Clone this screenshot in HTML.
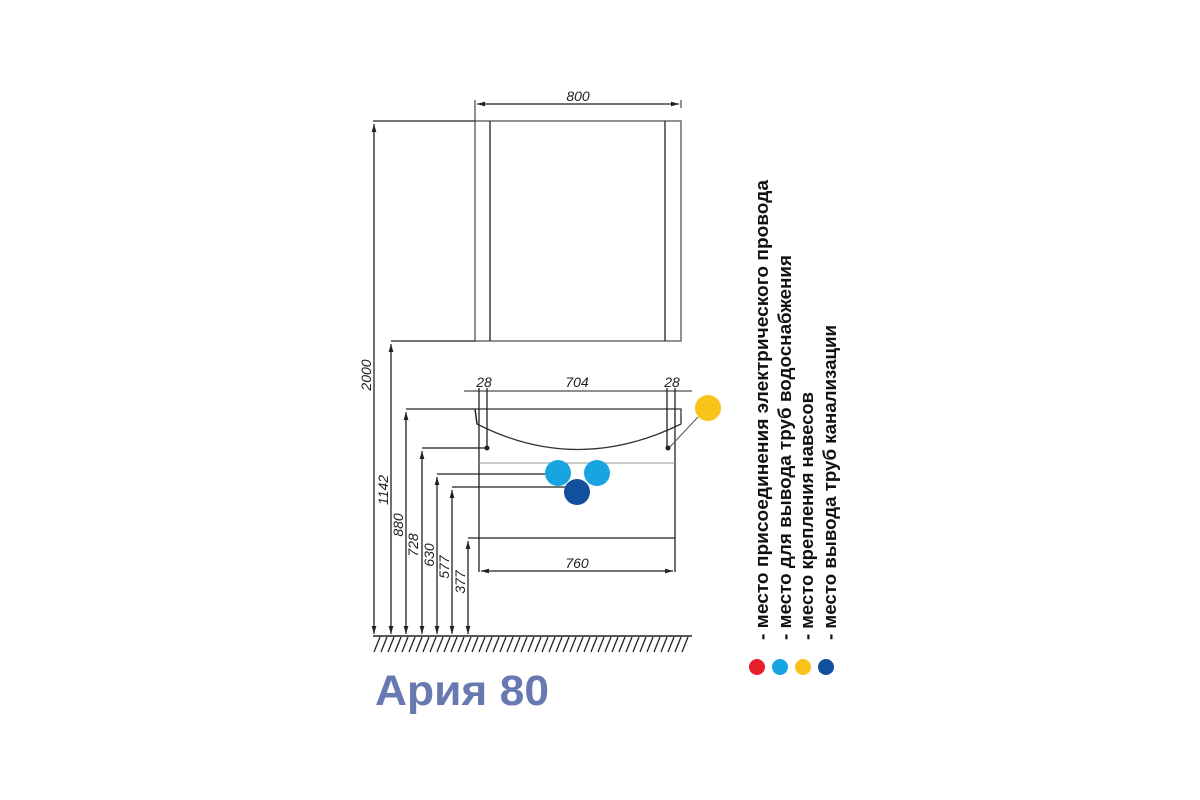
<!DOCTYPE html>
<html><head><meta charset="utf-8"><style>
html,body{margin:0;padding:0;background:#fff;}
svg{display:block;}
</style></head><body>
<svg width="1200" height="800" viewBox="0 0 1200 800" xmlns="http://www.w3.org/2000/svg">
<defs>
<marker id="a" viewBox="0 0 10 6" refX="10" refY="3" markerWidth="8" markerHeight="5" orient="auto-start-reverse" markerUnits="userSpaceOnUse"><path d="M0,0 L10,3 L0,6 z" fill="#222"/></marker>
</defs>
<rect width="1200" height="800" fill="#fff"/>
<g stroke="#222" stroke-width="1.3" fill="none">
<!-- mirror -->
<rect x="475" y="121" width="206" height="220" stroke="#555"/>
<line x1="490" y1="121" x2="490" y2="341"/>
<line x1="665" y1="121" x2="665" y2="341"/>
<!-- 800 dim -->
<line x1="475" y1="100" x2="475" y2="121" stroke-width="1"/>
<line x1="681" y1="100" x2="681" y2="108" stroke-width="1"/>
<line x1="477" y1="104" x2="679" y2="104" marker-start="url(#a)" marker-end="url(#a)"/>
<!-- vertical dims -->
<line x1="373" y1="121" x2="475" y2="121"/>
<line x1="374" y1="124" x2="374" y2="634" marker-start="url(#a)" marker-end="url(#a)"/>
<line x1="391" y1="341" x2="475" y2="341"/>
<line x1="391" y1="344" x2="391" y2="634" marker-start="url(#a)" marker-end="url(#a)"/>
<line x1="406" y1="409" x2="475" y2="409"/>
<line x1="406" y1="412" x2="406" y2="634" marker-start="url(#a)" marker-end="url(#a)"/>
<line x1="422" y1="448" x2="487" y2="448"/>
<line x1="422" y1="451" x2="422" y2="634" marker-start="url(#a)" marker-end="url(#a)"/>
<line x1="437" y1="474" x2="545" y2="474"/>
<line x1="437" y1="477" x2="437" y2="634" marker-start="url(#a)" marker-end="url(#a)"/>
<line x1="452" y1="487" x2="565" y2="487"/>
<line x1="452" y1="490" x2="452" y2="634" marker-start="url(#a)" marker-end="url(#a)"/>
<line x1="468" y1="538" x2="675" y2="538"/>
<line x1="468" y1="541" x2="468" y2="634" marker-start="url(#a)" marker-end="url(#a)"/>
<!-- ground -->
<line x1="373" y1="636" x2="692" y2="636" stroke-width="1.6"/>
<path d="M380,637 l-6,15 M387,637 l-6,15 M394,637 l-6,15 M401,637 l-6,15 M408,637 l-6,15 M415,637 l-6,15 M422,637 l-6,15 M429,637 l-6,15 M436,637 l-6,15 M443,637 l-6,15 M450,637 l-6,15 M457,637 l-6,15 M464,637 l-6,15 M471,637 l-6,15 M478,637 l-6,15 M485,637 l-6,15 M492,637 l-6,15 M499,637 l-6,15 M506,637 l-6,15 M513,637 l-6,15 M520,637 l-6,15 M527,637 l-6,15 M534,637 l-6,15 M541,637 l-6,15 M548,637 l-6,15 M555,637 l-6,15 M562,637 l-6,15 M569,637 l-6,15 M576,637 l-6,15 M583,637 l-6,15 M590,637 l-6,15 M597,637 l-6,15 M604,637 l-6,15 M611,637 l-6,15 M618,637 l-6,15 M625,637 l-6,15 M632,637 l-6,15 M639,637 l-6,15 M646,637 l-6,15 M653,637 l-6,15 M660,637 l-6,15 M667,637 l-6,15 M674,637 l-6,15 M681,637 l-6,15 M688,637 l-6,15"/>
<!-- countertop -->
<path d="M475,409 L681,409 L681,424 Q577,475 477,424 Z" stroke="#333"/>
<line x1="475" y1="409" x2="477" y2="424"/>
<!-- posts -->
<line x1="479" y1="388" x2="479" y2="572"/>
<line x1="487" y1="388" x2="487" y2="448"/>
<line x1="667" y1="388" x2="667" y2="448"/>
<line x1="675" y1="388" x2="675" y2="572"/>
<line x1="479" y1="463" x2="675" y2="463" stroke="#999" stroke-width="1"/>
<!-- 28/704/28 -->
<line x1="464" y1="391" x2="692" y2="391" stroke-width="1"/>
<!-- 760 -->
<line x1="481" y1="571" x2="673" y2="571" marker-start="url(#a)" marker-end="url(#a)"/>
<line x1="698" y1="417" x2="669" y2="448" stroke="#555" stroke-width="1"/>
</g>
<circle cx="487" cy="448" r="2.5" fill="#222"/>
<circle cx="668" cy="448" r="2.5" fill="#222"/>
<circle cx="708" cy="408" r="13" fill="#f9c31a"/>
<circle cx="558" cy="473" r="13" fill="#18a4e0"/>
<circle cx="597" cy="473" r="13" fill="#18a4e0"/>
<circle cx="577" cy="492" r="13" fill="#124f9c"/>
<g font-family="Liberation Sans, sans-serif" font-style="italic" font-size="14" fill="#222">
<text x="578" y="101" text-anchor="middle">800</text>
<text x="484" y="387" text-anchor="middle">28</text>
<text x="577" y="387" text-anchor="middle">704</text>
<text x="672" y="387" text-anchor="middle">28</text>
<text x="577" y="568" text-anchor="middle">760</text>
<text transform="translate(371,375) rotate(-90)" text-anchor="middle">2000</text>
<text transform="translate(388,490) rotate(-90)" text-anchor="middle">1142</text>
<text transform="translate(403,525) rotate(-90)" text-anchor="middle">880</text>
<text transform="translate(418,545) rotate(-90)" text-anchor="middle">728</text>
<text transform="translate(434,555) rotate(-90)" text-anchor="middle">630</text>
<text transform="translate(449,567) rotate(-90)" text-anchor="middle">577</text>
<text transform="translate(465,582) rotate(-90)" text-anchor="middle">377</text>
</g>
<g font-family="Liberation Sans, sans-serif" font-weight="bold" font-size="18" fill="#111">
<text transform="translate(768,640) rotate(-90)" textLength="460" lengthAdjust="spacingAndGlyphs">- место присоединения  электрического провода</text>
<text transform="translate(791,640) rotate(-90)" textLength="385" lengthAdjust="spacingAndGlyphs">- место для вывода труб водоснабжения</text>
<text transform="translate(813,640) rotate(-90)" textLength="248" lengthAdjust="spacingAndGlyphs">- место крепления навесов</text>
<text transform="translate(836,640) rotate(-90)" textLength="315" lengthAdjust="spacingAndGlyphs">- место вывода труб канализации</text>
</g>
<circle cx="757" cy="667" r="8" fill="#e5202a"/>
<circle cx="780" cy="667" r="8" fill="#18a4e0"/>
<circle cx="803" cy="667" r="8" fill="#f9c31a"/>
<circle cx="826" cy="667" r="8" fill="#124f9c"/>
<text x="375" y="705" font-family="Liberation Sans, sans-serif" font-weight="bold" font-size="43" fill="#6878b0" textLength="174" lengthAdjust="spacingAndGlyphs">Ария 80</text>
</svg>
</body></html>
